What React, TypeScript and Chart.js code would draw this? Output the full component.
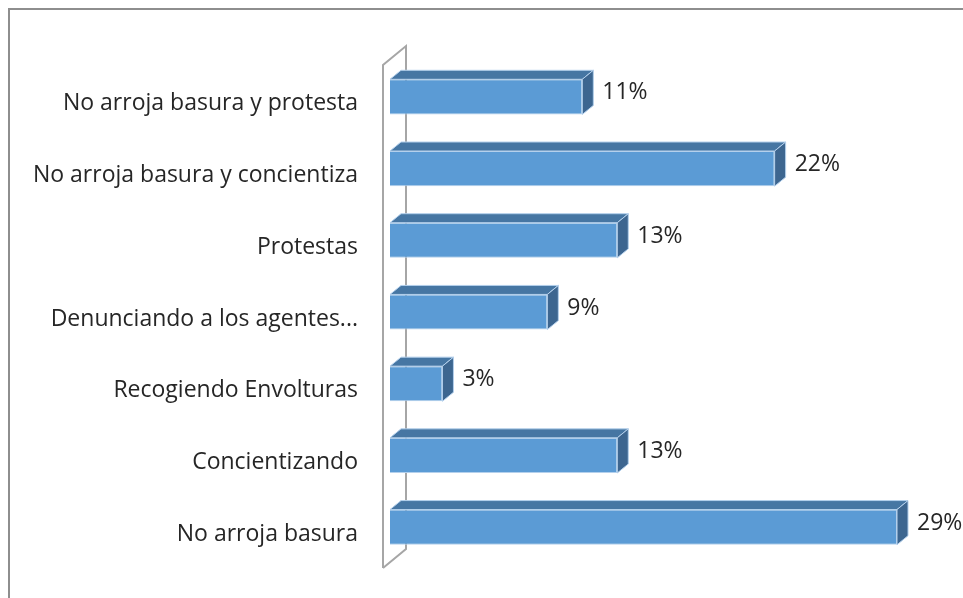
import React, { useEffect, useRef } from "react";
import { Chart, registerables } from "chart.js";

Chart.register(...registerables);

const categories = [
  "No arroja basura y protesta",
  "No arroja basura y concientiza",
  "Protestas",
  "Denunciando a los agentes...",
  "Recogiendo Envolturas",
  "Concientizando",
  "No arroja basura",
];
const values = [11, 22, 13, 9, 3, 13, 29];
const valueLabels = ["11%", "22%", "13%", "9%", "3%", "13%", "29%"];

const FONT = "'Open Sans', sans-serif";
const DX = 11;
const DY = -9;

const bar3d = {
  id: "bar3d",
  beforeDatasetsDraw(chart: any) {
    const { ctx, chartArea } = chart;
    ctx.save();
    // outer chart border (top and left visible)
    ctx.strokeStyle = "#8e8e8e";
    ctx.lineWidth = 2;
    ctx.beginPath();
    ctx.moveTo(9, 600);
    ctx.lineTo(9, 9);
    ctx.lineTo(970, 9);
    ctx.stroke();
    // 3D wall
    const fx = chartArea.left - 7;
    const ty = chartArea.top + 4;
    const by = chartArea.bottom + 5;
    const wx = 23;
    const wy = -19;
    ctx.strokeStyle = "#a6a6a6";
    ctx.lineWidth = 2;
    ctx.beginPath();
    ctx.moveTo(fx, by);
    ctx.lineTo(fx, ty);
    ctx.lineTo(fx + wx, ty + wy);
    ctx.lineTo(fx + wx, by + wy);
    ctx.lineTo(fx, by);
    ctx.stroke();
    ctx.restore();
  },
  afterDatasetsDraw(chart: any) {
    const { ctx } = chart;
    const meta = chart.getDatasetMeta(0);
    ctx.save();
    meta.data.forEach((el: any, i: number) => {
      const { x, y, base, height } = el.getProps(["x", "y", "base", "height"], true);
      const top = y - height / 2;
      const bottom = y + height / 2;
      ctx.lineWidth = 1;
      ctx.strokeStyle = "#b4d0ec";
      // top face
      ctx.fillStyle = "#4676a3";
      ctx.beginPath();
      ctx.moveTo(base, top);
      ctx.lineTo(base + DX, top + DY);
      ctx.lineTo(x + DX, top + DY);
      ctx.lineTo(x, top);
      ctx.closePath();
      ctx.fill();
      ctx.stroke();
      // side face
      ctx.fillStyle = "#3d6690";
      ctx.beginPath();
      ctx.moveTo(x, top);
      ctx.lineTo(x + DX, top + DY);
      ctx.lineTo(x + DX, bottom + DY);
      ctx.lineTo(x, bottom);
      ctx.closePath();
      ctx.fill();
      ctx.stroke();
      // value label
      ctx.fillStyle = "#262626";
      ctx.font = `23px ${FONT}`;
      ctx.textAlign = "left";
      ctx.textBaseline = "middle";
      ctx.fillText(valueLabels[i], x + DX + 9, y - 4);
    });
    ctx.restore();
  },
};

export default function App() {
  const ref = useRef<HTMLCanvasElement>(null);
  useEffect(() => {
    if (!ref.current) return;
    const chart = new Chart(ref.current, {
      type: "bar",
      data: {
        labels: categories,
        datasets: [
          {
            data: values,
            backgroundColor: "#5b9bd5",
            borderColor: "#b4d0ec",
            borderWidth: 1,
            barPercentage: 0.49,
            categoryPercentage: 1,
          },
        ],
      },
      options: {
        indexAxis: "y",
        responsive: false,
        animation: false,
        layout: { padding: { top: 61, bottom: 35, right: 48.5, left: 0 } },
        plugins: { legend: { display: false }, tooltip: { enabled: false } },
        scales: {
          x: { display: false, min: 0, max: 30 },
          y: {
            grid: { display: false, drawTicks: false },
            border: { display: false },
            afterFit: (scale: any) => {
              scale.width = 390;
              scale.paddingTop = 0;
              scale.paddingBottom = 0;
            },
            ticks: {
              padding: 32,
              labelOffset: 7,
              color: "#262626",
              font: { family: FONT, size: 23 },
            },
          },
        },
      },
      plugins: [bar3d],
    });
    return () => chart.destroy();
  }, []);
  return (
    <div style={{ position: "absolute", left: 0, top: 0, width: 963, height: 598, background: "#fff" }}>
      <canvas ref={ref} width={963} height={598} style={{ display: "block" }} />
    </div>
  );
}
